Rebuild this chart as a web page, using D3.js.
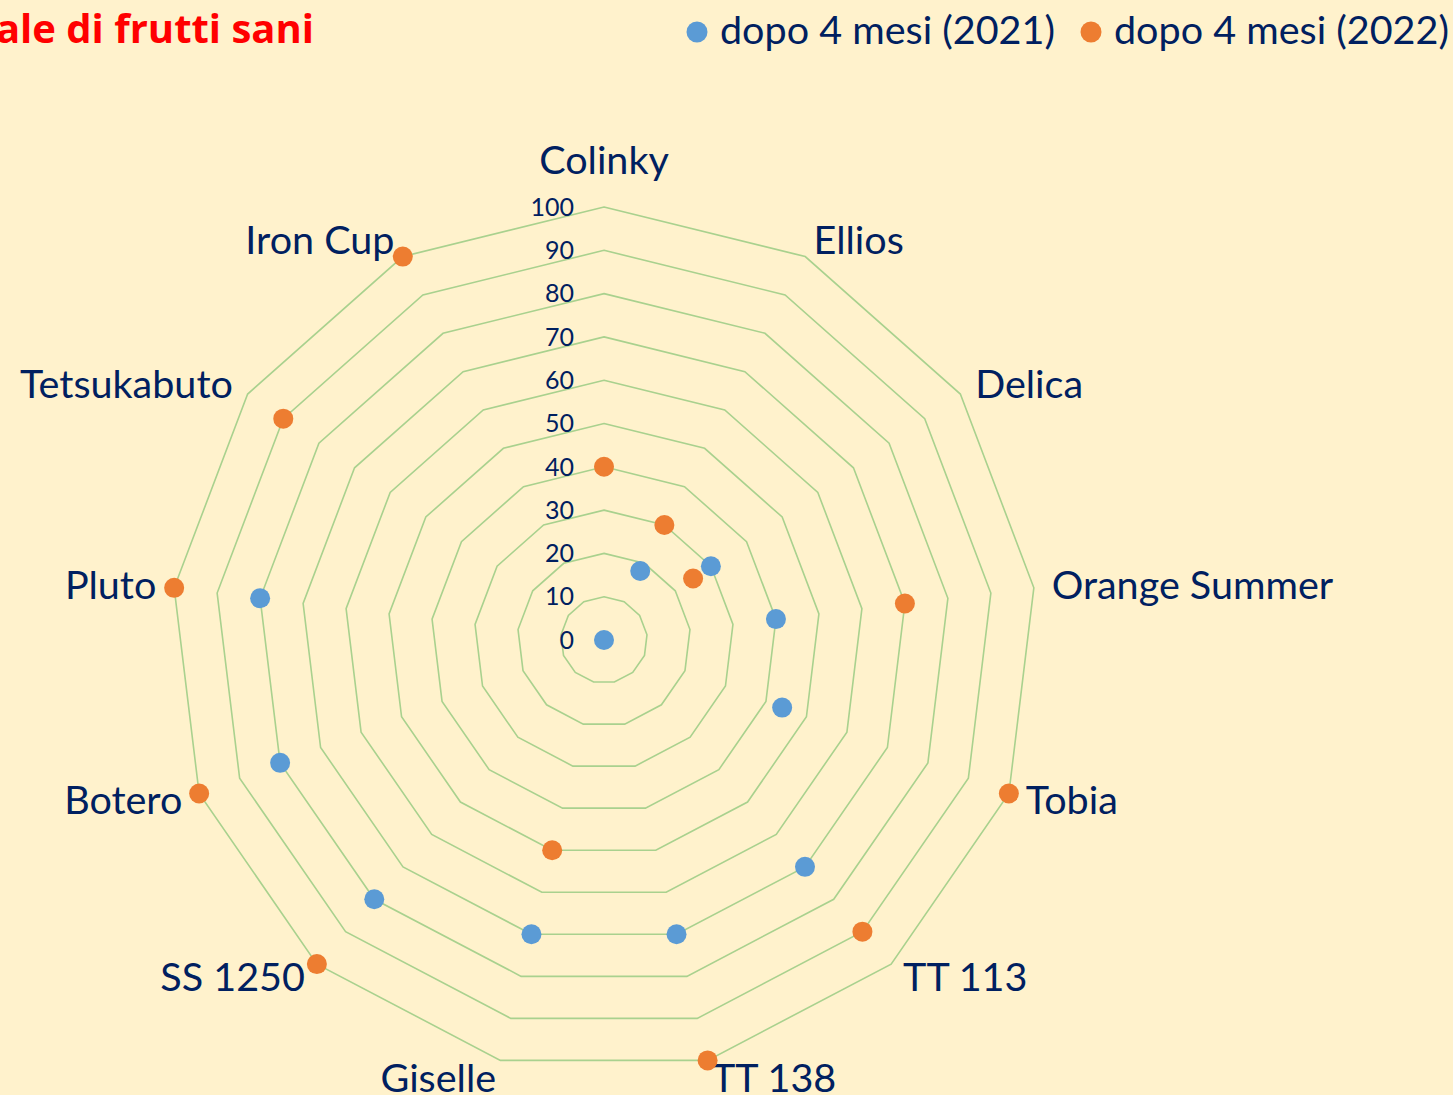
<!DOCTYPE html>
<html lang="it">
<head>
  <meta charset="UTF-8" />
  <title>Percentuale di frutti sani</title>
  <style>
    body {
      margin: 0;
      overflow: hidden;
      background: #fff2cc;
      font-family: Lato, "Open Sans", sans-serif;
    }
    svg {
      display: block;
    }
  </style>
  <script src="https://cdn.jsdelivr.net/npm/d3@7"></script>
</head>
<body>
  <div id="chart"></div>

  <script>
    const categories = ['Colinky', 'Ellios', 'Delica', 'Orange Summer', 'Tobia', 'TT 113', 'TT 138',
      'Giselle', 'SS 1250', 'Botero', 'Pluto', 'Tetsukabuto', 'Iron Cup'];
    const values2021 = [0, 18, 30, 40, 44, 70, 70, 70, 80, 80, 80, null, null];
    const values2022 = [40, 30, 25, 70, 100, 90, 100, 50, 100, 100, 100, 90, 100];
    const ticks = [0, 10, 20, 30, 40, 50, 60, 70, 80, 90, 100];
    const seriesNames = ['dopo 4 mesi (2021)', 'dopo 4 mesi (2022)'];
    const title = 'Percentuale di frutti sani';

    const width = 1453;
    const height = 1095;
    const cx = 604;
    const cy = 640;
    const navy = '#002060';
    const colors = ['#5b9bd5', '#ed7d31'];

    const svg = d3.select('#chart').append('svg')
      .attr('width', width)
      .attr('height', height);

    svg.append('rect')
      .attr('width', width)
      .attr('height', height)
      .attr('fill', '#fff2cc');

    const r = d3.scaleLinear().domain([0, 100]).range([0, 433]);
    const angle = d3.scaleLinear().domain([0, categories.length]).range([0, 2 * Math.PI]);

    const g = svg.append('g').attr('transform', `translate(${cx},${cy})`);

    // grid polygons
    const ring = d3.lineRadial()
      .angle((d, i) => angle(i))
      .radius(d => r(d))
      .curve(d3.curveLinearClosed);

    g.append('g').selectAll('path')
      .data(ticks)
      .join('path')
      .attr('d', t => ring(categories.map(() => t)))
      .attr('fill', 'none')
      .attr('stroke', '#a9d18e')
      .attr('stroke-width', 1.6);

    // tick labels
    g.append('g').selectAll('text')
      .data(ticks)
      .join('text')
      .attr('x', -30)
      .attr('y', t => -r(t))
      .attr('dy', '0.35em')
      .attr('text-anchor', 'end')
      .attr('font-size', 25)
      .attr('fill', navy)
      .text(t => t);

    // category labels
    const labelR = 451;
    g.append('g').selectAll('text')
      .data(categories)
      .join('text')
      .attr('x', (d, i) => labelR * Math.sin(angle(i)))
      .attr('y', (d, i) => {
        const c = Math.cos(angle(i));
        return -labelR * c - (c > 0.9 ? 29 : 0);
      })
      .attr('dy', '0.35em')
      .attr('text-anchor', (d, i) => {
        const s = Math.sin(angle(i));
        return s > 0.1 ? 'start' : (s < -0.1 ? 'end' : 'middle');
      })
      .attr('font-size', 39.5)
      .attr('fill', navy)
      .text(d => d);

    // points
    [values2021, values2022].forEach((vals, si) => {
      g.append('g').selectAll('circle')
        .data(vals.map((v, i) => ({ v, i })).filter(d => d.v !== null))
        .join('circle')
        .attr('cx', d => r(d.v) * Math.sin(angle(d.i)))
        .attr('cy', d => -r(d.v) * Math.cos(angle(d.i)))
        .attr('r', 10)
        .attr('fill', colors[si]);
    });

    // title (cut at left edge like the original)
    svg.append('text')
      .attr('x', 314)
      .attr('y', 43)
      .attr('text-anchor', 'end')
      .attr('font-family', '"Open Sans", sans-serif')
      .attr('font-size', 40)
      .attr('font-weight', 'bold')
      .attr('fill', '#ff0000')
      .text(title);

    // legend
    const legendX = [697, 1091];
    const legend = svg.append('g').selectAll('g')
      .data(seriesNames)
      .join('g')
      .attr('transform', (d, i) => `translate(${legendX[i]},32)`);

    legend.append('circle')
      .attr('r', 10.5)
      .attr('fill', (d, i) => colors[i]);

    legend.append('text')
      .attr('x', 23)
      .attr('y', 12)
      .attr('font-size', 39.5)
      .attr('fill', navy)
      .text(d => d);
  </script>
</body>
</html>
